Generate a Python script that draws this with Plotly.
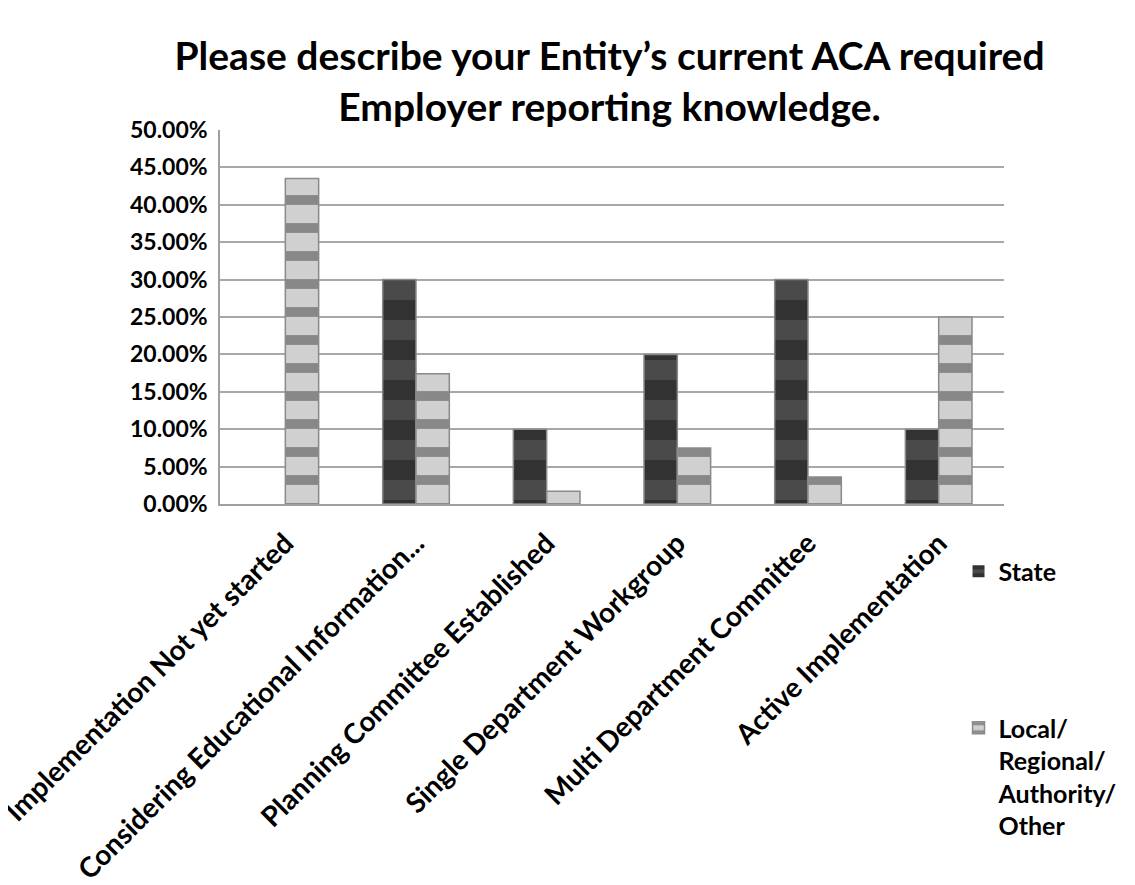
import plotly.graph_objects as go

categories = [
    "Implementation Not yet started",
    "Considering Educational Information...",
    "Planning Committee Established",
    "Single Department Workgroup",
    "Multi Department Committee",
    "Active Implementation",
]
state_values = [0.0, 0.30, 0.10, 0.20, 0.30, 0.10]
local_values = [0.435, 0.174, 0.017, 0.075, 0.036, 0.25]
tick_vals = [0, 0.05, 0.10, 0.15, 0.20, 0.25, 0.30, 0.35, 0.40, 0.45, 0.50]
tick_text = ["0.00%", "5.00%", "10.00%", "15.00%", "20.00%", "25.00%",
             "30.00%", "35.00%", "40.00%", "45.00%", "50.00%"]

FONT = "Lato, 'Open Sans', sans-serif"

fig = go.Figure()
fig.add_trace(go.Bar(
    x=categories, y=state_values, name="<b>State</b>", legendgroup="s",
    marker=dict(color="#333333",
                line=dict(color="#8a8a8a", width=[0 if v == 0 else 1.5 for v in state_values]),
                pattern=dict(shape="-", fgcolor="#1a1a1a", bgcolor="#4a4a4a",
                             size=40, solidity=0.5)),
))
fig.add_trace(go.Bar(
    x=categories, y=local_values, name="<b>Local/<br>Regional/<br>Authority/<br>Other</b>",
    legendgroup="l",
    marker=dict(color="#b0b0b0", line=dict(color="#8a8a8a", width=1.5),
                pattern=dict(shape="-", fgcolor="#404040", bgcolor="#d0d0d0",
                             size=28, solidity=0.35)),
))

fig.update_layout(
    width=1135, height=885,
    paper_bgcolor="white", plot_bgcolor="white",
    margin=dict(l=212, r=139, t=122, b=389, autoexpand=False),
    barmode="group", bargap=0.49, bargroupgap=0,
    font=dict(family=FONT, color="black"),
    title=dict(text="<b>Please describe your Entity’s current ACA required<br>Employer reporting knowledge.</b>",
               x=0.530, xanchor="center", y=0.930, yanchor="top",
               font=dict(size=39, family=FONT, color="black")),
    legend=dict(x=0.942, xanchor="left", y=-0.119, yanchor="top",
                font=dict(size=25, family=FONT, color="black"),
                tracegroupgap=121, itemwidth=30, valign="top",
                bgcolor="rgba(0,0,0,0)"),
    showlegend=True,
)
fig.update_xaxes(
    tickangle=-45, tickfont=dict(size=28, family=FONT, color="black"),
    showline=True, linecolor="#a0a0a0", linewidth=1.5,
    ticks="", showgrid=False, automargin=False, ticklabelstandoff=10,
    tickprefix="<b>", ticksuffix="</b>",
)
fig.update_yaxes(
    range=[0, 0.5], tickvals=tick_vals, ticktext=["<b>" + t + "</b>" for t in tick_text],
    tickfont=dict(size=23, family=FONT, color="black"),
    showgrid=True, gridcolor="#a8a8a8", gridwidth=1.5,
    showline=True, linecolor="#a0a0a0", linewidth=1.5,
    zeroline=False, ticks="", ticklen=0, automargin=False,
    ticklabelstandoff=6,
)

fig.write_html("out.html")
